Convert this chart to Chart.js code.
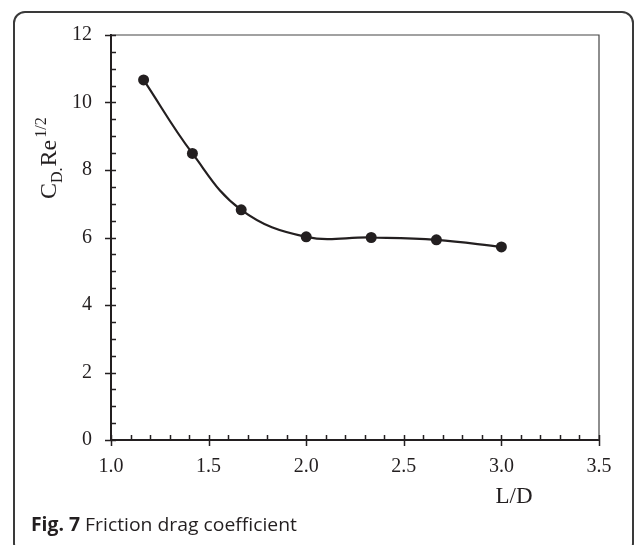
<!DOCTYPE html>
<html>
<head>
<meta charset="utf-8">
<script src="https://cdn.jsdelivr.net/npm/chart.js@4"></script>
<style>
  body { margin: 0; background: #fff; overflow: hidden; }
  #wrap { position: relative; width: 635px; height: 545px; }
  #frame {
    position: absolute; left: 13px; top: 11px; width: 617px; height: 540px;
    border: 2px solid #3a3a3a; border-radius: 12px;
  }
  #caption {
    position: absolute; left: 31px; top: 515px; white-space: nowrap;
    font-family: 'Open Sans', sans-serif; font-size: 19px; line-height: 1;
    color: #231f20; transform-origin: left top;
  }
  #caption b { font-weight: 700; }
  canvas { position: absolute; left: 0; top: 0; }
</style>
</head>
<body>
<div id="wrap">
  <div id="frame"></div>
  <canvas id="chart" width="635" height="545"></canvas>
  <div id="caption"><b>Fig. 7</b> Friction drag coefficient</div>
</div>
<script>
// L/D values and the measured coefficient
var ldValues = [1.167, 1.417, 1.667, 2.0, 2.333, 2.667, 3.0];
var cdRe = [10.67, 8.49, 6.82, 6.02, 6.0, 5.93, 5.72];

var xMin = 1.0, xMax = 3.5, xStep = 0.5, xMinor = 0.1;
var yMin = 0, yMax = 12, yStep = 2, yMinor = 0.5;

var ink = '#231f20';
var serif = "'Liberation Serif', 'Times New Roman', serif";

var points = ldValues.map(function(v, i) { return { x: v, y: cdRe[i] }; });

// box, minor ticks and axis titles
var decor = {
    id: 'decor',
    afterDraw: function(chart) {
        var ctx = chart.ctx;
        var a = chart.chartArea;
        var xs = chart.scales.x, ys = chart.scales.y;
        ctx.save();
        // thin top and right edge of the plot box
        ctx.strokeStyle = '#444';
        ctx.lineWidth = 1.2;
        ctx.beginPath();
        ctx.moveTo(a.left, a.top);
        ctx.lineTo(a.right, a.top);
        ctx.lineTo(a.right, a.bottom);
        ctx.stroke();

        ctx.strokeStyle = ink;
        ctx.lineWidth = 1.5;
        ctx.beginPath();
        var v, p, major;
        for (v = xMin; v <= xMax + 1e-9; v += xMinor) {
            p = Math.round(xs.getPixelForValue(v)) + 0.5;
            major = Math.abs(v / xStep - Math.round(v / xStep)) < 1e-6;
            ctx.moveTo(p, a.bottom - 5);
            ctx.lineTo(p, a.bottom + (major ? 6 : 0));
        }
        for (v = yMin; v <= yMax + 1e-9; v += yMinor) {
            p = Math.round(ys.getPixelForValue(v)) + 0.5;
            major = Math.abs(v / yStep - Math.round(v / yStep)) < 1e-6;
            ctx.moveTo(a.left + 5, p);
            ctx.lineTo(a.left - (major ? 6 : 0), p);
        }
        ctx.stroke();

        // x title
        ctx.fillStyle = ink;
        ctx.font = '23px ' + serif;
        ctx.textAlign = 'center';
        ctx.textBaseline = 'alphabetic';
        ctx.fillText('L/D', 514, 503);

        // y title: C_D.Re^1/2, rotated
        ctx.translate(56, 199);
        ctx.rotate(-Math.PI / 2);
        ctx.textAlign = 'left';
        var x = 0;
        var parts = [
            ['C', 24, 0, 0],
            ['D.', 16, 6, 0],
            ['Re', 24, 0, 1],
            ['1/2', 16, -10, 2]
        ];
        parts.forEach(function(pt) {
            x += pt[3];
            ctx.font = pt[1] + 'px ' + serif;
            ctx.fillText(pt[0], x, pt[2]);
            x += ctx.measureText(pt[0]).width;
        });
        ctx.restore();
    }
};

var ctx = document.getElementById('chart');
var chart = new Chart(ctx, {
    type: 'scatter',
    data: {
        datasets: [{
            data: points,
            showLine: true,
            tension: 0.4,
            borderColor: ink,
            borderWidth: 2.2,
            backgroundColor: ink,
            pointRadius: 5.5,
            pointBackgroundColor: ink,
            pointBorderWidth: 0
        }]
    },
    options: {
        responsive: false,
        animation: false,
        events: [],
        layout: { padding: { left: 51, right: 36, top: 35, bottom: 45 } },
        plugins: { legend: { display: false }, tooltip: { enabled: false } },
        scales: {
            x: {
                type: 'linear', min: xMin, max: xMax,
                afterFit: function(s) { s.height = 60; },
                grid: { display: true, drawOnChartArea: false, drawTicks: false },
                border: { color: ink, width: 2 },
                ticks: {
                    stepSize: xStep, padding: 15, color: ink,
                    font: { family: serif, size: 20 },
                    callback: function(v) { return v.toFixed(1); }
                }
            },
            y: {
                type: 'linear', min: yMin, max: yMax,
                afterFit: function(s) { s.width = 60; },
                grid: { display: true, drawOnChartArea: false, drawTicks: false },
                border: { color: ink, width: 2 },
                ticks: {
                    stepSize: yStep, padding: 19, color: ink,
                    font: { family: serif, size: 20 }
                }
            }
        }
    },
    plugins: [decor]
});

// squeeze the caption to the width it has in the figure
var cap = document.getElementById('caption');
var w = cap.getBoundingClientRect().width;
cap.style.transform = 'scaleX(' + (266 / w) + ')';
</script>
</body>
</html>
